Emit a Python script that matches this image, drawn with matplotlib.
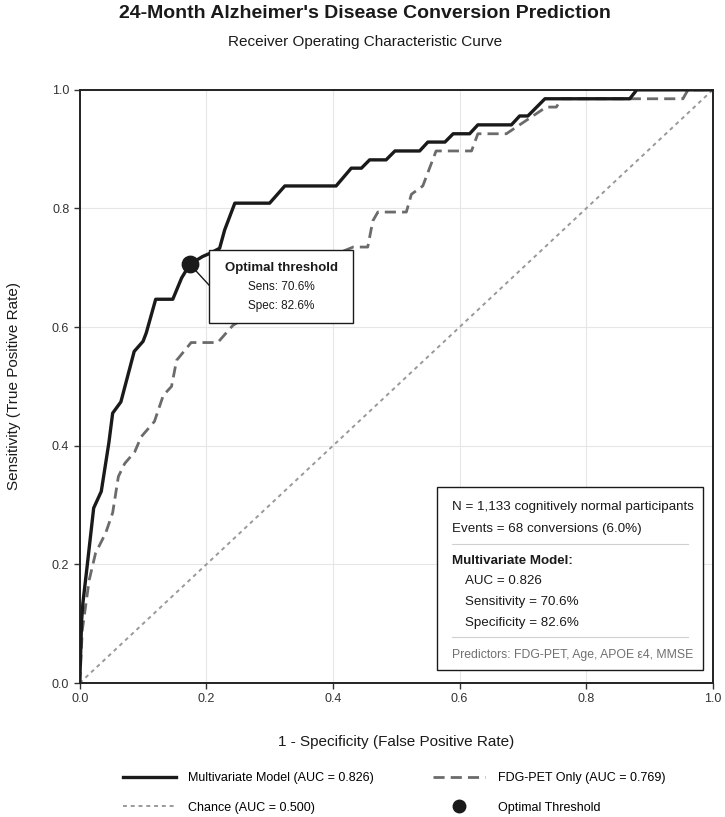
import matplotlib
matplotlib.use("Agg")
import matplotlib.pyplot as plt
from matplotlib.lines import Line2D
from matplotlib.patches import Rectangle

plt.rcParams['font.family'] = ['Liberation Sans', 'DejaVu Sans']

# ---- data ----
multi_fpr = [0, 0.003, 0.005, 0.012, 0.022, 0.034, 0.046, 0.052, 0.065, 0.086, 0.100, 0.105,
             0.120, 0.147, 0.161, 0.174, 0.194, 0.207, 0.221, 0.229, 0.245, 0.300, 0.324,
             0.405, 0.429, 0.445, 0.458, 0.484, 0.498, 0.537, 0.550, 0.577, 0.590, 0.616,
             0.629, 0.682, 0.695, 0.708, 0.735, 0.869, 0.880, 1.0]
multi_tpr = [0, 0.106, 0.135, 0.200, 0.295, 0.323, 0.405, 0.455, 0.474, 0.559, 0.576, 0.590,
             0.647, 0.647, 0.683, 0.706, 0.719, 0.725, 0.733, 0.764, 0.809, 0.809, 0.838,
             0.838, 0.868, 0.868, 0.882, 0.882, 0.897, 0.897, 0.912, 0.912, 0.926, 0.926,
             0.941, 0.941, 0.956, 0.956, 0.985, 0.985, 1.0, 1.0]

fdg_fpr = [0, 0.004, 0.015, 0.025, 0.041, 0.052, 0.061, 0.071, 0.087, 0.097, 0.118, 0.132,
           0.145, 0.153, 0.176, 0.218, 0.242, 0.265, 0.300, 0.330, 0.370, 0.400, 0.432,
           0.455, 0.463, 0.471, 0.516, 0.524, 0.542, 0.563, 0.619, 0.629, 0.674, 0.716,
           0.737, 0.753, 0.761, 0.953, 0.961, 1.0]
fdg_tpr = [0, 0.089, 0.174, 0.219, 0.253, 0.287, 0.348, 0.370, 0.390, 0.415, 0.441, 0.485,
           0.500, 0.544, 0.574, 0.574, 0.603, 0.618, 0.647, 0.662, 0.691, 0.721, 0.735,
           0.735, 0.779, 0.794, 0.794, 0.824, 0.838, 0.897, 0.897, 0.926, 0.926, 0.956,
           0.971, 0.971, 0.985, 0.985, 1.0, 1.0]

chance = [0, 1]
opt_fpr, opt_tpr = 0.174, 0.706

auc_multi, auc_fdg, auc_chance = 0.826, 0.769, 0.500
sens_txt, spec_txt = "70.6%", "82.6%"
ticks = [0.0, 0.2, 0.4, 0.6, 0.8, 1.0]
tick_labels = ["0.0", "0.2", "0.4", "0.6", "0.8", "1.0"]

# ---- figure ----
fig = plt.figure(figsize=(7.25, 8.17), dpi=100)
ax = fig.add_axes([0.110, 0.164, 0.873, 0.726])

ax.set_xlim(0, 1)
ax.set_ylim(0, 1)
ax.set_xticks(ticks)
ax.set_yticks(ticks)
ax.set_xticklabels(tick_labels)
ax.set_yticklabels(tick_labels)
ax.tick_params(labelsize=9, colors='#333333', length=4, width=1)
ax.grid(True, color='#e6e6e6', lw=0.8)
ax.set_axisbelow(True)
for s in ax.spines.values():
    s.set_color('#222222')
    s.set_linewidth(1.4)

ax.plot(chance, chance, color='#999999', lw=1.4, linestyle=(0, (2, 2)), zorder=2)
ax.plot(fdg_fpr, fdg_tpr, color='#6b6b6b', lw=2.0, linestyle=(0, (4, 2.2)), zorder=3)
ax.plot(multi_fpr, multi_tpr, color='#1a1a1a', lw=2.4, zorder=4)

# annotation box
bx0, by0, bx1, by1 = 0.205, 0.607, 0.432, 0.730
ax.plot([opt_fpr, bx0], [opt_tpr, 0.670], color='#1a1a1a', lw=1.0, zorder=5)
ax.add_patch(Rectangle((bx0, by0), bx1 - bx0, by1 - by0, facecolor='white',
                       edgecolor='#1a1a1a', lw=1.0, zorder=6))
cx = (bx0 + bx1) / 2
ax.text(cx, 0.699, "Optimal threshold", ha='center', va='center', fontsize=9.5,
        fontweight='bold', color='#1a1a1a', zorder=7)
ax.text(cx, 0.667, f"Sens: {sens_txt}", ha='center', va='center', fontsize=8.5,
        color='#1a1a1a', zorder=7)
ax.text(cx, 0.636, f"Spec: {spec_txt}", ha='center', va='center', fontsize=8.5,
        color='#1a1a1a', zorder=7)
ax.scatter([opt_fpr], [opt_tpr], s=140, color='#1a1a1a', zorder=8)

# stats box
ax.add_patch(Rectangle((0.564, 0.022), 0.420, 0.308, facecolor='white',
                       edgecolor='#1a1a1a', lw=1.0, zorder=6, transform=ax.transAxes))
tx, tx2 = 0.588, 0.608
kw = dict(transform=ax.transAxes, va='center', ha='left', fontsize=9.6, color='#1a1a1a', zorder=7)
ax.text(tx, 0.297, "N = 1,133 cognitively normal participants", **kw)
ax.text(tx, 0.260, "Events = 68 conversions (6.0%)", **kw)
ax.plot([0.588, 0.961], [0.234, 0.234], color='#d0d0d0', lw=0.8, transform=ax.transAxes, zorder=7)
ax.text(tx, 0.206, "Multivariate Model:", fontweight='bold', **kw)
ax.text(tx2, 0.172, f"AUC = {auc_multi:.3f}", **kw)
ax.text(tx2, 0.137, f"Sensitivity = {sens_txt}", **kw)
ax.text(tx2, 0.101, f"Specificity = {spec_txt}", **kw)
ax.plot([0.588, 0.961], [0.078, 0.078], color='#d0d0d0', lw=0.8, transform=ax.transAxes, zorder=7)
kw2 = dict(kw); kw2['color'] = '#707070'; kw2['fontsize'] = 8.8
ax.text(tx, 0.047, "Predictors: FDG-PET, Age, APOE \u03b54, MMSE", **kw2)

ax.set_xlabel("1 - Specificity (False Positive Rate)", fontsize=11, color='#1a1a1a', labelpad=21)
ax.set_ylabel("Sensitivity (True Positive Rate)", fontsize=11, color='#1a1a1a', labelpad=22)

fig.text(0.503, 0.983, "24-Month Alzheimer's Disease Conversion Prediction", ha='center',
         va='center', fontsize=14, fontweight='bold', color='#1a1a1a')
fig.text(0.503, 0.948, "Receiver Operating Characteristic Curve", ha='center', va='center',
         fontsize=11, color='#1a1a1a')

handles = [
    Line2D([], [], color='#1a1a1a', lw=2.4),
    Line2D([], [], color='#999999', lw=1.4, linestyle=(0, (2, 2))),
    Line2D([], [], color='#6b6b6b', lw=2.0, linestyle=(0, (4, 2.2))),
    Line2D([], [], color='#1a1a1a', lw=0, marker='o', markersize=9),
]
labels = [f"Multivariate Model (AUC = {auc_multi:.3f})", f"Chance (AUC = {auc_chance:.3f})",
          f"FDG-PET Only (AUC = {auc_fdg:.3f})", "Optimal Threshold"]
fig.legend(handles, labels, ncol=2, loc='upper left', bbox_to_anchor=(123 / 725, 1 - 772 / 817),
           frameon=False, fontsize=9, handlelength=4.2, columnspacing=4.7,
           handletextpad=1.0, labelspacing=1.4, borderpad=0, borderaxespad=0)

fig.savefig("out.png", dpi=100)
